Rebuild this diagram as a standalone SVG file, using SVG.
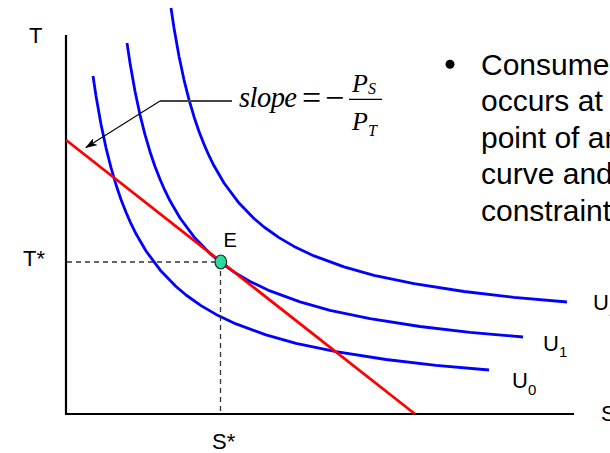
<svg xmlns="http://www.w3.org/2000/svg" width="610" height="453" viewBox="0 0 610 453">
<defs>
<style>
.lbl{font-family:"Liberation Sans",Arial,sans-serif;font-size:22px;fill:#000}
.sub{font-size:15px}
.bul{font-family:"Liberation Sans",Arial,sans-serif;font-size:30px;fill:#000}
.math{font-family:"Liberation Serif","Times New Roman",serif;fill:#000}
.ucurve{fill:none;stroke:#0000ff;stroke-width:2.8;stroke-linejoin:round;stroke-linecap:butt}
.budget{fill:none;stroke:#ff0000;stroke-width:2.8}
.axis{fill:none;stroke:#000;stroke-width:2.2}
.dash{fill:none;stroke:#333;stroke-width:1.3;stroke-dasharray:5 4}
</style>
<marker id="arr" viewBox="0 0 12 8" refX="11" refY="4" markerWidth="12" markerHeight="8" markerUnits="userSpaceOnUse" orient="auto">
<path d="M0,0 L12,4 L0,8 L3,4 Z" fill="#000"/>
</marker>
<path id="ucurve" d="M127,43 L130,62.9 L135,91.2 L140,114.8 L145,134.7 L150,151.7 L155,166.5 L160,179.3 L165,190.7 L170,200.8 L180,218 L195,238.1 L210,253.5 L220,262 L235,272.6 L250,281.4 L270,290.9 L300,301.9 L330,310.3 L370,318.7 L420,326.5 L470,332.3 L523,337"/>
</defs>
<rect width="610" height="453" fill="#fff"/>

<g id="axes">
<line class="axis" x1="66" y1="35" x2="66" y2="414"/>
<line class="axis" x1="65" y1="414" x2="574" y2="414"/>
<text class="lbl" x="29" y="43">T</text>
<text class="lbl" x="601" y="421">S</text>
</g>

<g id="U0">
<use href="#ucurve" class="ucurve" transform="translate(-34,33)"/>
<text class="lbl" x="512" y="388">U<tspan class="sub" dy="7">0</tspan></text>
</g>
<g id="U1">
<use href="#ucurve" class="ucurve"/>
<text class="lbl" x="543" y="351">U<tspan class="sub" dy="6">1</tspan></text>
</g>
<g id="U2">
<use href="#ucurve" class="ucurve" transform="translate(44,-35)"/>
<text class="lbl" x="593" y="310">U<tspan class="sub" dy="6">2</tspan></text>
</g>

<g id="budget">
<line class="budget" x1="66" y1="140" x2="415" y2="414"/>
</g>

<g id="connectors">
<line class="dash" x1="67" y1="262" x2="220" y2="262"/>
<line class="dash" x1="220.5" y1="262" x2="220.5" y2="413"/>
<polyline points="232,101 160,101" fill="none" stroke="#444" stroke-width="1.8"/>
<line x1="160" y1="101" x2="86" y2="147.5" stroke="#000" stroke-width="1.1" marker-end="url(#arr)"/>
</g>

<g id="E">
<ellipse cx="220.8" cy="262" rx="5.8" ry="7" fill="#2ad8a0" stroke="#1a2a22" stroke-width="1.2"/>
<text class="lbl" x="223.5" y="247" style="font-size:20px">E</text>
</g>

<g id="stars">
<text class="lbl" x="23" y="266">T*</text>
<text class="lbl" x="212" y="449">S*</text>
</g>

<g id="slope">
<text class="math" x="239" y="107" font-size="28.5" font-style="italic" textLength="58" lengthAdjust="spacing">slope</text>
<text class="math" x="302" y="109" font-size="34">=</text>
<text class="math" x="325" y="109" font-size="34">−</text>
<line x1="349" y1="99.3" x2="382" y2="99.3" stroke="#000" stroke-width="1.3"/>
<text class="math" x="352" y="92" font-size="26" font-style="italic">P<tspan font-size="16" dy="2">S</tspan></text>
<text class="math" x="352" y="130" font-size="26" font-style="italic">P<tspan font-size="16" dy="6">T</tspan></text>
</g>

<g id="bullet">
<circle cx="450" cy="64.2" r="4.5" fill="#000"/>
<text class="bul" x="481" y="74.5">Consumer</text>
<text class="bul" x="481" y="111">occurs at</text>
<text class="bul" x="481" y="147.5">point of an</text>
<text class="bul" x="481" y="184">curve and</text>
<text class="bul" x="481" y="220.5">constraint</text>
</g>
</svg>
